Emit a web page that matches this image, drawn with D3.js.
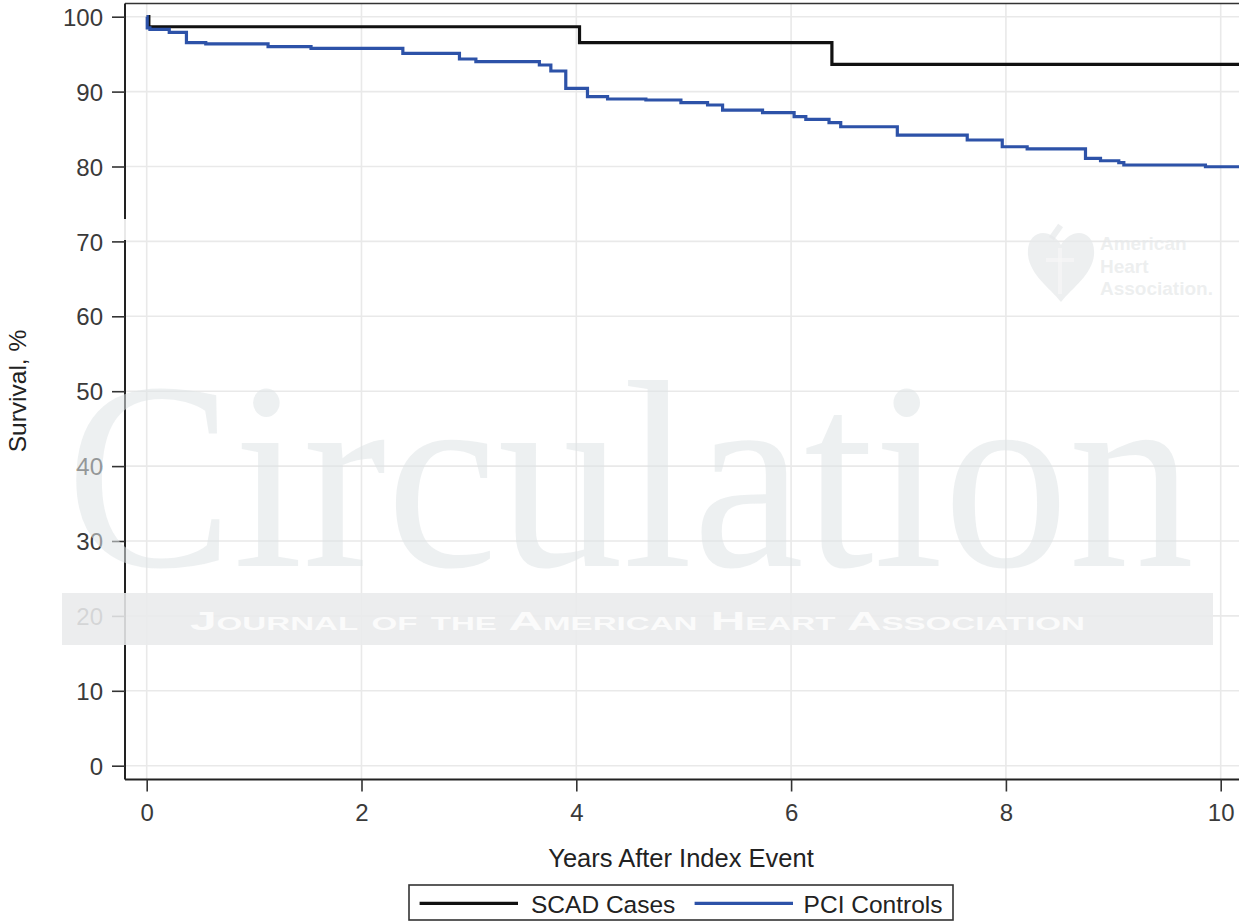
<!DOCTYPE html>
<html>
<head>
<meta charset="utf-8">
<script src="https://cdn.jsdelivr.net/npm/d3@7"></script>
<style>
  html, body { margin: 0; padding: 0; background: #fff; }
  svg { display: block; }
  text { font-family: "Liberation Sans", Arial, sans-serif; }
</style>
</head>
<body>
<svg id="chart" width="1239" height="923"></svg>
<script>
// Kaplan–Meier survival, SCAD cases vs. PCI controls
const xTicks = [0, 2, 4, 6, 8, 10];
const yTicks = [0, 10, 20, 30, 40, 50, 60, 70, 80, 90, 100];

// SCAD cases: event times (years) and survival (%)
const scadYears = [0, 0.02, 4.03, 6.38, 10.4];
const scadSurv  = [100, 98.66, 96.53, 93.64, 93.64];

// PCI controls: event times (years) and survival (%)
const pciYears = [0, 0.005, 0.03, 0.21, 0.37, 0.55, 1.13, 1.53, 2.385, 2.912, 3.065,
                  3.656, 3.763, 3.902, 4.104, 4.291, 4.648, 4.974, 5.222, 5.362, 5.734,
                  6.028, 6.137, 6.353, 6.462, 6.989, 7.640, 7.966, 8.198, 8.741, 8.881,
                  9.051, 9.098, 9.858, 10.4];
const pciSurv  = [100, 98.5, 98.32, 97.92, 96.53, 96.36, 96.0, 95.78, 95.11, 94.35, 93.99,
                  93.55, 92.75, 90.44, 89.32, 89.01, 88.88, 88.52, 88.21, 87.54, 87.18,
                  86.65, 86.30, 85.85, 85.31, 84.20, 83.54, 82.64, 82.34, 81.09, 80.77,
                  80.51, 80.20, 79.97, 79.97];

const seriesNames = ["SCAD Cases", "PCI Controls"];
const seriesColors = ["#111111", "#2d52a8"];

const svg = d3.select("#chart");
const W = 1239, H = 923;
const plotLeft = 125, plotTop = 3.5, plotBottom = 779.5;

const x = d3.scaleLinear().domain([0, 10]).range([146.7, 1220.7]);
const y = d3.scaleLinear().domain([0, 100]).range([765.7, 16.7]);

// gridlines
const grid = svg.append("g");
grid.selectAll("line.h").data(yTicks).join("line")
  .attr("x1", plotLeft).attr("x2", W)
  .attr("y1", d => y(d)).attr("y2", d => y(d))
  .attr("stroke", "#e9e9e9").attr("stroke-width", 1.6);
grid.selectAll("line.v").data(xTicks).join("line")
  .attr("x1", d => x(d)).attr("x2", d => x(d))
  .attr("y1", plotTop).attr("y2", plotBottom)
  .attr("stroke", "#e9e9e9").attr("stroke-width", 1.6);

// journal watermark (behind the data)
const wm = svg.append("g").attr("pointer-events", "none");
wm.append("text")
  .attr("x", 66).attr("y", 566)
  .attr("textLength", 1128).attr("lengthAdjust", "spacingAndGlyphs")
  .style("font-family", "'Liberation Serif', 'Times New Roman', serif")
  .style("font-size", "268px")
  .attr("fill", "#dfe3e5").attr("fill-opacity", 0.55)
  .text("Circulation");

// AHA mark
const logo = wm.append("g").attr("fill", "#e6e8e9").attr("fill-opacity", 0.7);
const hp = d3.path();
hp.moveTo(1061, 245);
hp.bezierCurveTo(1050, 226, 1026, 230, 1028, 255);
hp.bezierCurveTo(1030, 275, 1050, 288, 1061, 302);
hp.bezierCurveTo(1072, 288, 1092, 275, 1094, 255);
hp.bezierCurveTo(1096, 230, 1072, 226, 1061, 245);
hp.closePath();
logo.append("path").attr("d", hp.toString());
logo.append("rect").attr("x", 1053).attr("y", 224).attr("width", 6).attr("height", 16)
  .attr("transform", "rotate(35,1056,232)");
logo.append("rect").attr("x", 1058).attr("y", 248).attr("width", 4).attr("height", 46).attr("fill", "#f7f7f7");
logo.append("rect").attr("x", 1046).attr("y", 258).attr("width", 28).attr("height", 4).attr("fill", "#f7f7f7");
const logoLines = ["American", "Heart", "Association."];
logo.selectAll("text").data(logoLines).join("text")
  .attr("x", 1100).attr("y", (d, i) => 250 + i * 22.5)
  .style("font-size", "19px").style("font-weight", "bold")
  .text(d => d);

// curves
const line = d3.line().curve(d3.curveStepAfter).x(d => x(d[0])).y(d => y(d[1]));
const curves = [d3.zip(scadYears, scadSurv), d3.zip(pciYears, pciSurv)];
svg.append("g").selectAll("path").data(curves).join("path")
  .attr("d", line)
  .attr("fill", "none")
  .attr("stroke", (d, i) => seriesColors[i])
  .attr("stroke-width", 3.2)
  .attr("stroke-linejoin", "miter");

// frame: top border
svg.append("line").attr("x1", plotLeft).attr("x2", W).attr("y1", plotTop).attr("y2", plotTop)
  .attr("stroke", "#333").attr("stroke-width", 1.6);

// y axis
const yAxis = d3.axisLeft(y).tickValues(yTicks).tickSize(13).tickPadding(9).tickFormat(d3.format("d"));
const gy = svg.append("g").attr("transform", `translate(${plotLeft},0)`).call(yAxis);
gy.select(".domain").attr("d", `M0,${plotTop}V${plotBottom}`).attr("stroke", "#222").attr("stroke-width", 2);
gy.selectAll(".tick line").attr("stroke", "#333").attr("stroke-width", 1.6);
gy.selectAll(".tick text").attr("fill", "#3a3a3a").style("font-size", "24px")
  .style("font-family", "'Liberation Sans', Arial, sans-serif").attr("dy", "0.36em");

// x axis
const xAxis = d3.axisBottom(x).tickValues(xTicks).tickSize(12).tickPadding(12).tickFormat(d3.format("d"));
const gx = svg.append("g").attr("transform", `translate(0,${plotBottom})`).call(xAxis);
gx.select(".domain").attr("d", `M${plotLeft},0H${W}`).attr("stroke", "#222").attr("stroke-width", 2);
gx.selectAll(".tick line").attr("stroke", "#333").attr("stroke-width", 1.6);
gx.selectAll(".tick text").attr("fill", "#3a3a3a").style("font-size", "24px")
  .style("font-family", "'Liberation Sans', Arial, sans-serif");

// watermark band and patch laid over the axis
wm.raise();
wm.select("text").lower();
svg.append("rect").attr("x", 118).attr("y", 219).attr("width", 14).attr("height", 21)
  .attr("fill", "#fff").attr("fill-opacity", 0.9);
const band = svg.append("g");
band.append("rect").attr("x", 62).attr("y", 593).attr("width", 1151).attr("height", 52)
  .attr("fill", "#e9ebec").attr("fill-opacity", 0.88);
band.append("text")
  .attr("x", 190).attr("y", 630)
  .attr("textLength", 895).attr("lengthAdjust", "spacingAndGlyphs")
  .style("font-size", "26px").style("font-weight", "bold").style("font-variant", "small-caps")
  .attr("fill", "#fbfbfb")
  .text("Journal of the American Heart Association");

// axis titles
svg.append("text").attr("x", 681).attr("y", 867)
  .attr("text-anchor", "middle").attr("fill", "#222").style("font-size", "25.5px")
  .text("Years After Index Event");
svg.append("text")
  .attr("transform", "translate(26,391) rotate(-90)")
  .attr("text-anchor", "middle").attr("fill", "#222").style("font-size", "24.5px")
  .text("Survival, %");

// legend
const lg = svg.append("g");
lg.append("rect").attr("x", 409).attr("y", 885).attr("width", 544).attr("height", 35)
  .attr("fill", "#fff").attr("stroke", "#333").attr("stroke-width", 1.6);
const legendItems = [
  { x1: 419.6, x2: 518, tx: 531 },
  { x1: 694.6, x2: 793, tx: 803.6 }
];
legendItems.forEach((d, i) => {
  lg.append("line").attr("x1", d.x1).attr("x2", d.x2).attr("y1", 903.3).attr("y2", 903.3)
    .attr("stroke", seriesColors[i]).attr("stroke-width", 3.2);
  lg.append("text").attr("x", d.tx).attr("y", 912.5)
    .attr("fill", "#222").style("font-size", "24.5px").text(seriesNames[i]);
});
</script>
</body>
</html>
